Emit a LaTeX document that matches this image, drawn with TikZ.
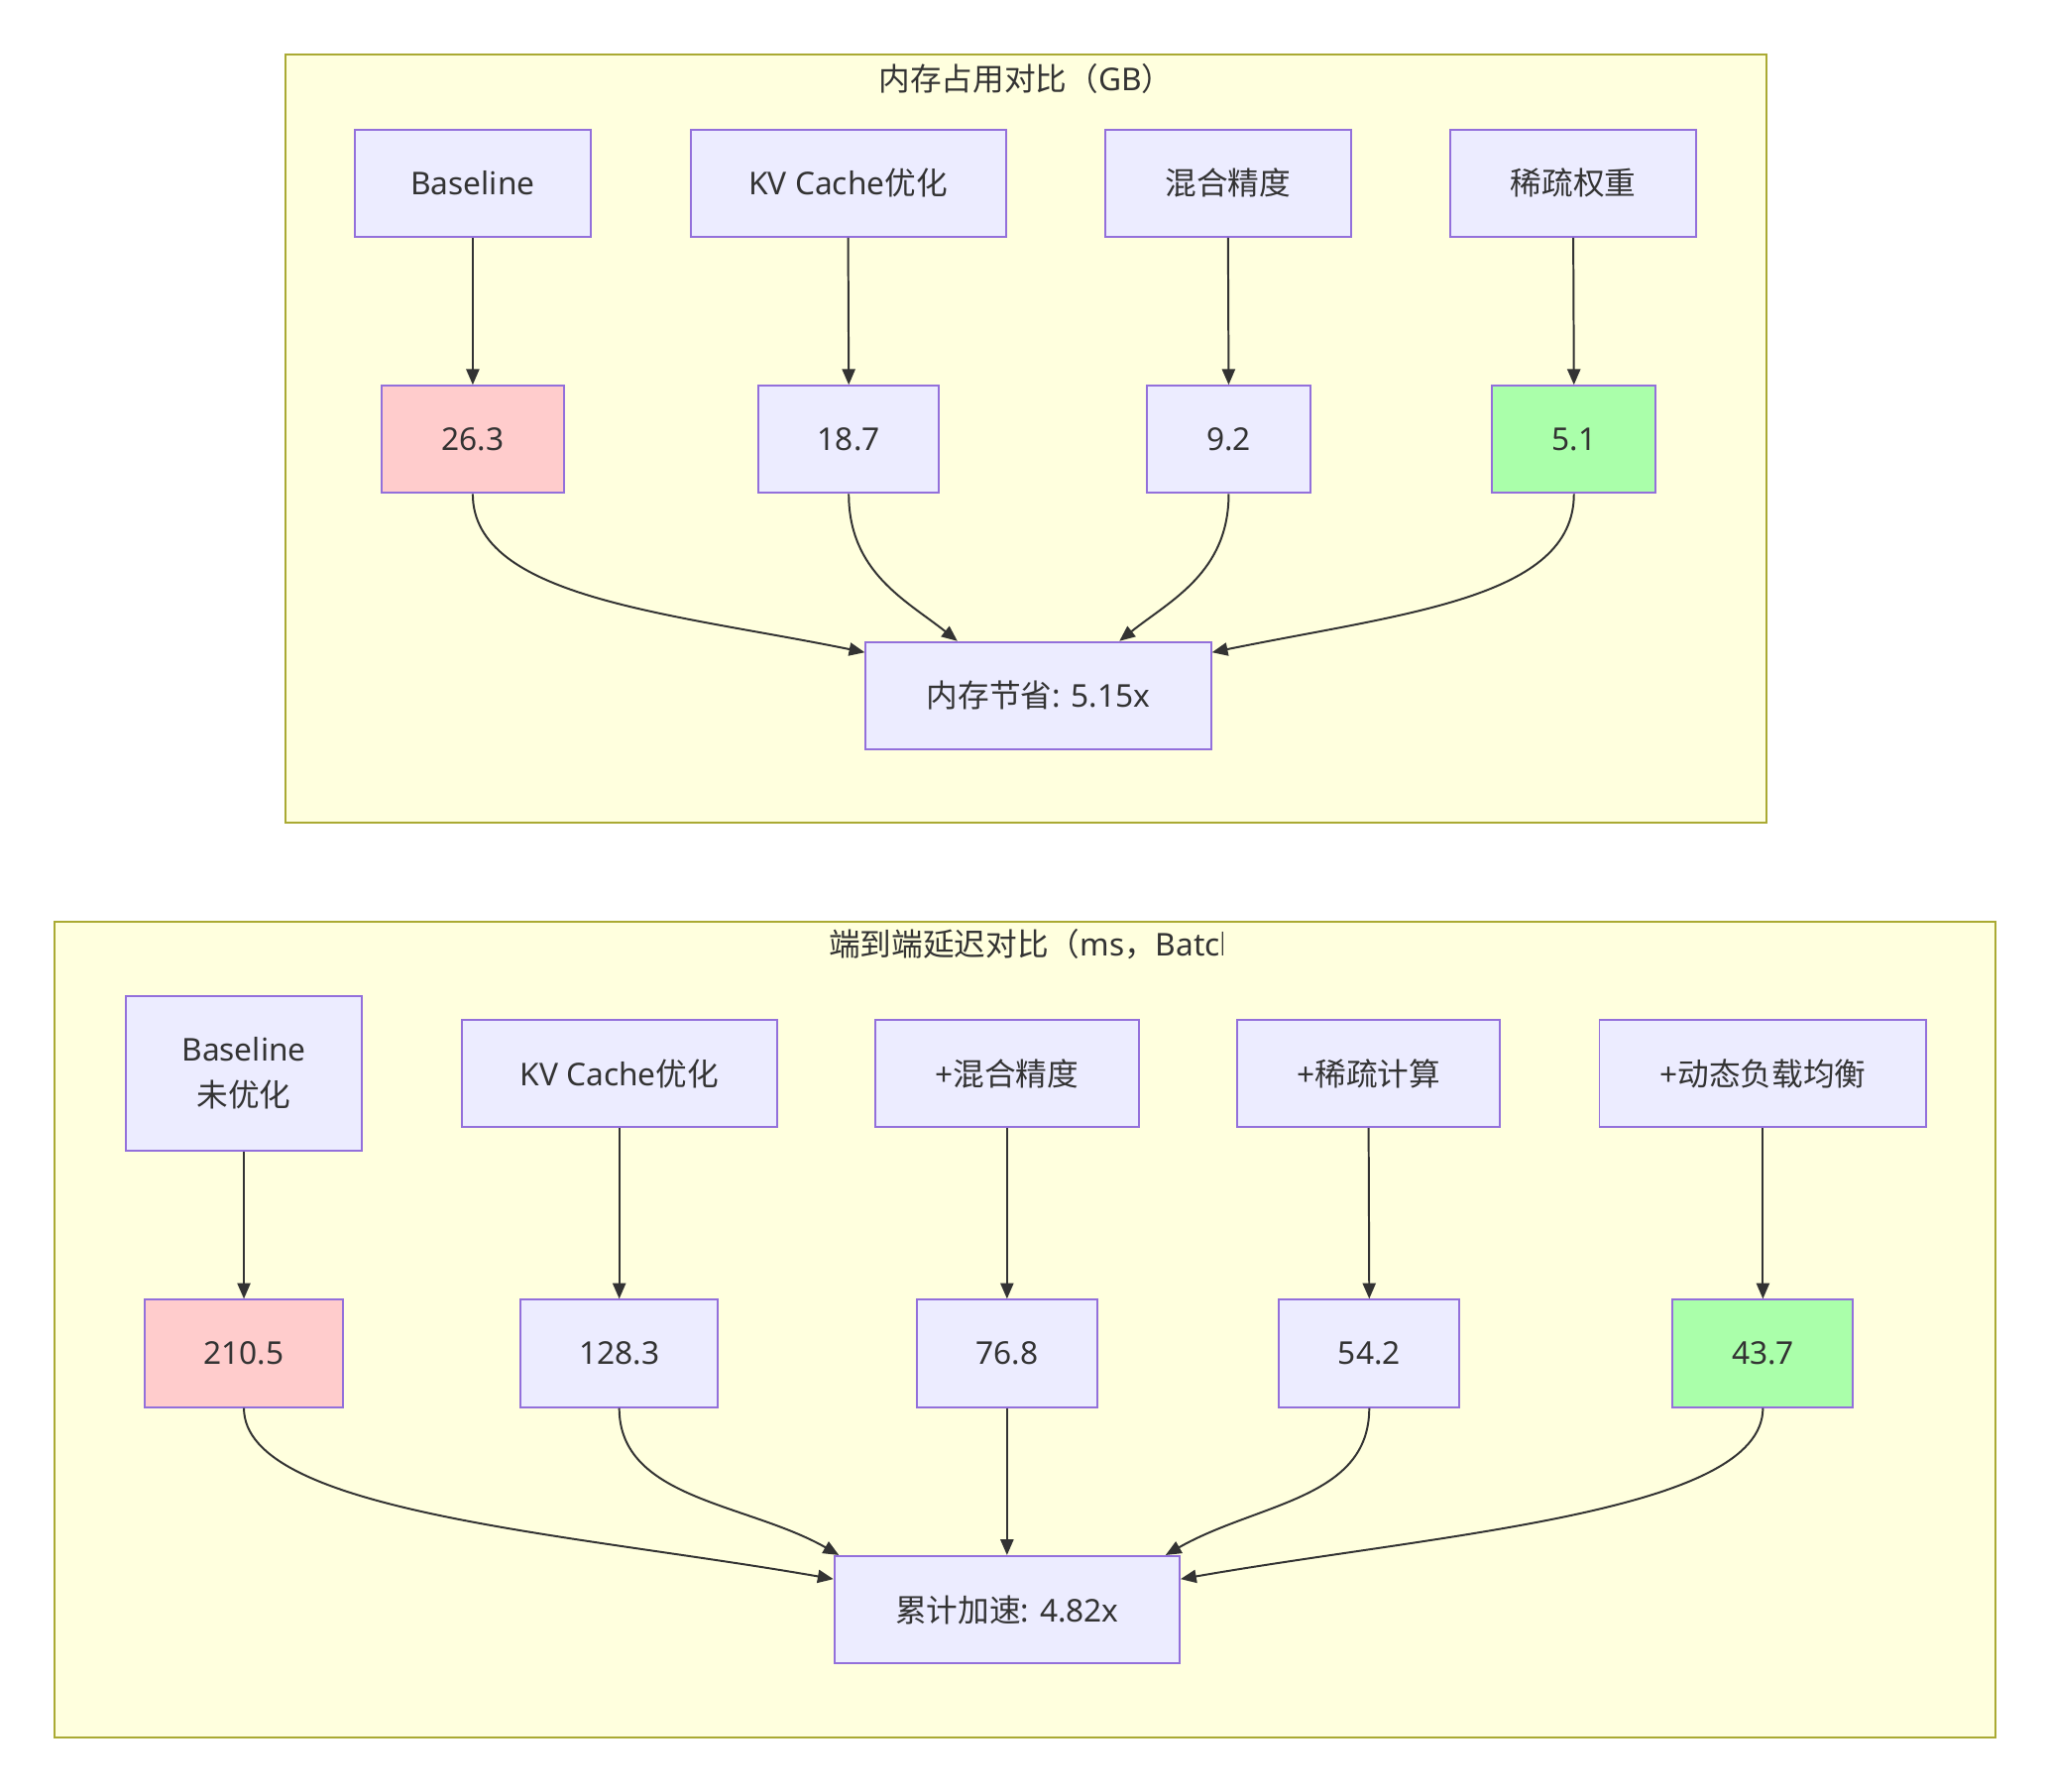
\documentclass[tikz,border=0pt]{standalone}
\usepackage{fontspec}
\setmainfont{Noto Sans}
\newfontfamily\cjk{Noto Sans CJK SC}
\usetikzlibrary{arrows.meta}
\definecolor{clusterfill}{HTML}{FFFFDE}
\definecolor{clusterline}{HTML}{AAAA33}
\definecolor{nodefill}{HTML}{ECECFF}
\definecolor{nodeline}{HTML}{9370DB}
\definecolor{badfill}{HTML}{FFCCCC}
\definecolor{goodfill}{HTML}{AAFFAA}
\definecolor{inkgray}{HTML}{333333}
\tikzset{every picture/.style={line width=1.5pt}}

\begin{document}
\begin{tikzpicture}[x=1pt,y=1pt,yscale=-1,xscale=1,
  mbox/.style={draw=nodeline, fill=nodefill, text=inkgray, minimum height=82pt, inner sep=0pt, font=\fontsize{24}{35}\selectfont, align=center},
  flow/.style={draw=inkgray, -{Triangle[length=12pt,width=10pt]}},
  cluster/.style={draw=clusterline, fill=clusterfill},
  ctitle/.style={text=inkgray, inner sep=0pt, font=\fontsize{24}{35}\selectfont}]
\useasboundingbox (0,0) rectangle (1566,1369.7);

%Shape: Cluster memory
\draw [cluster] (218,42) rectangle (1351,629);
\node [ctitle] (memTitle) at (784.5,60) {{\cjk 内存占用对比（}GB{\cjk ）}};

%Shape: Cluster latency
\draw [cluster] (42,705) rectangle (1526,1329);
\begin{scope}
\clip (600,705) rectangle (935,750);
\node [ctitle, anchor=west] (latTitle) at (633,722) {{\cjk 端到端延迟对比（}ms{\cjk ，}Batch};
\end{scope}

% Memory nodes
\node [mbox, minimum width=181pt] (memBase) at (361.5,140) {Baseline};
\node [mbox, minimum width=241pt] (memKV) at (648.5,140) {KV Cache{\cjk 优化}};
\node [mbox, minimum width=188pt] (memMix) at (939,140) {\cjk 混合精度};
\node [mbox, minimum width=188pt] (memSparse) at (1203,140) {\cjk 稀疏权重};
\node [mbox, minimum width=139pt, fill=badfill] (memA) at (361.5,336) {26.3};
\node [mbox, minimum width=138pt] (memB) at (649,336) {18.7};
\node [mbox, minimum width=125pt] (memC) at (939.5,336) {9.2};
\node [mbox, minimum width=125pt, fill=goodfill] (memD) at (1203.5,336) {5.1};
\node [mbox, minimum width=264pt] (memSave) at (794,532) {{\cjk 内存节省}: 5.15x};

% Latency nodes
\node [mbox, minimum width=181pt, minimum height=118pt] (latBase) at (186.5,821) {Baseline\\{\cjk 未优化}};
\node [mbox, minimum width=241pt] (latKV) at (473.5,821) {KV Cache{\cjk 优化}};
\node [mbox, minimum width=202pt] (latMix) at (770,821) {+{\cjk 混合精度}};
\node [mbox, minimum width=201pt] (latSparse) at (1046.5,821) {+{\cjk 稀疏计算}};
\node [mbox, minimum width=250pt] (latBal) at (1348,821) {+{\cjk 动态负载均衡}};
\node [mbox, minimum width=151pt, fill=badfill] (latA) at (186.5,1035) {210.5};
\node [mbox, minimum width=151pt] (latB) at (473.5,1035) {128.3};
\node [mbox, minimum width=138pt] (latC) at (770,1035) {76.8};
\node [mbox, minimum width=138pt] (latD) at (1047,1035) {54.2};
\node [mbox, minimum width=138pt, fill=goodfill] (latE) at (1348,1035) {43.7};
\node [mbox, minimum width=264pt] (latSpeed) at (770,1231) {{\cjk 累计加速}: 4.82x};

%Straight Lines memory
\draw [flow] (memBase) -- (memA);
\draw [flow] (memKV.south) -- (memB.north);
\draw [flow] (memMix.south) -- (memC.north);
\draw [flow] (memSparse.south) -- (memD.north);
%Curve Lines memory
\draw [flow] (memA.south) .. controls +(0,80) and +(-147,-30) .. (memSave.166);
\draw [flow] (memB.south) .. controls +(0,60) and +(-39,-31) .. (memSave.146);
\draw [flow] (memC.south) .. controls +(0,60) and +(39,-31) .. (memSave.34);
\draw [flow] (memD.south) .. controls +(0,80) and +(147,-30) .. (memSave.14);

%Straight Lines latency
\draw [flow] (latBase) -- (latA);
\draw [flow] (latKV) -- (latB);
\draw [flow] (latMix) -- (latC);
\draw [flow] (latSparse.south) -- (latD.north);
\draw [flow] (latBal) -- (latE);
%Curve Lines latency
\draw [flow] (latA.south) .. controls +(0,80) and +(-200,-35) .. (latSpeed.170);
\draw [flow] (latB.south) .. controls +(0,70) and +(-70,-40) .. (latSpeed.162);
\draw [flow] (latC) -- (latSpeed);
\draw [flow] (latD.south) .. controls +(0,70) and +(70,-40) .. (latSpeed.19);
\draw [flow] (latE.south) .. controls +(0,80) and +(200,-35) .. (latSpeed.10);

\end{tikzpicture}
\end{document}
